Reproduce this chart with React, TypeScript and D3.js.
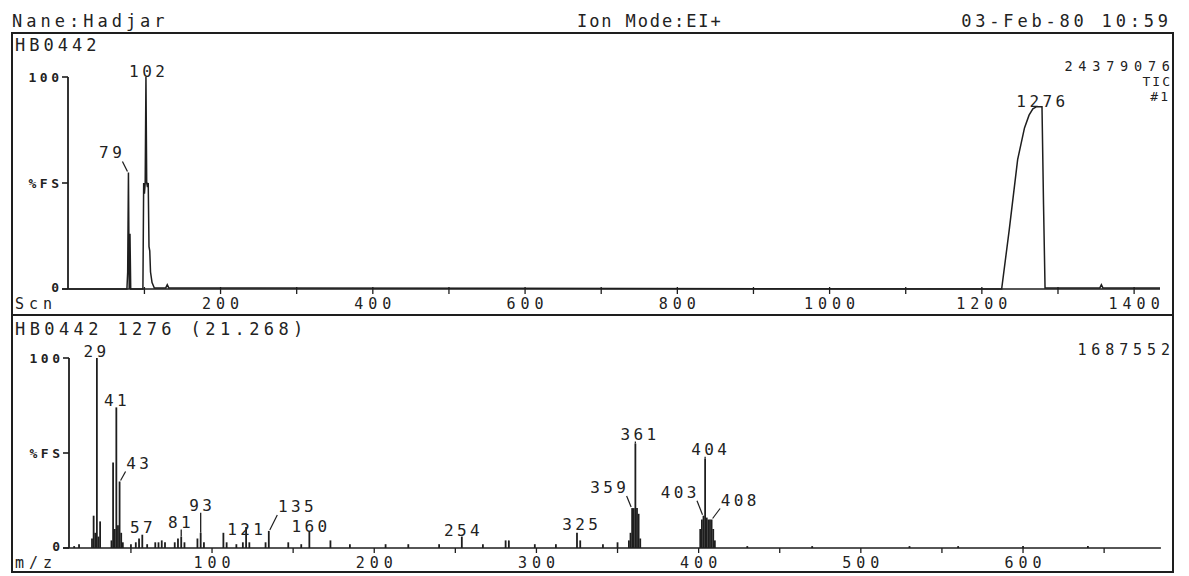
import React from 'react';
import * as d3 from 'd3';

// TIC trace: scan number and %FS
const ticScans = [0, 77, 78, 79, 80, 81, 82, 98, 99, 100, 101, 102, 103, 104, 105, 106, 107, 108, 110, 113, 128, 130, 132, 1226, 1236, 1247, 1256, 1262, 1267, 1272, 1276, 1279, 1281, 1283, 1355, 1357, 1359, 1434];
const ticPct = [0, 0, 8, 55, 0, 26, 0, 0, 50, 45, 50, 100, 50, 48, 50, 20, 18, 8, 3, 0.5, 0.5, 2, 0.5, 0, 28, 61, 76, 82, 85, 86, 86, 86, 40, 0.5, 0.5, 2, 0.5, 0.5];

// mass spectrum of scan 1276
const specMz = [15, 18, 26, 27, 28, 29, 30, 31, 38, 39, 40, 41, 42, 43, 44, 45, 50, 53, 55, 57, 60, 65, 67, 69, 71, 77, 79, 81, 83, 91, 93, 95, 107, 109, 115, 119, 121, 123, 133, 135, 147, 155, 160, 173, 185, 207, 221, 240, 254, 267, 281, 283, 299, 312, 325, 327, 341, 350, 357, 358, 359, 360, 361, 362, 363, 364, 401, 402, 403, 404, 405, 406, 407, 408, 409, 410, 430, 470, 530, 560, 600, 640];
const specPct = [1, 2, 5, 17, 8, 100, 6, 14, 4, 45, 10, 74, 12, 35, 8, 3, 2, 3, 5, 7, 2, 3, 3, 4, 3, 3, 5, 6, 3, 5, 8, 3, 8, 3, 2, 3, 11, 3, 3, 9, 3, 2, 9, 4, 2, 2, 2, 2, 6, 2, 4, 4, 2, 2, 8, 4, 2, 3, 4, 8, 21, 21, 55, 21, 18, 5, 10, 15, 17, 47, 16, 15, 15, 15, 10, 4, 1, 1, 1, 1, 1, 1];

const ticTicks = [200, 400, 600, 800, 1000, 1200, 1400];
const ticMinor = d3.range(100, 1434, 100);
const mzTicks = [100, 200, 300, 400, 500, 600];
const mzMinor = d3.range(50, 685, 50);

// peak annotations (value to label, label offset from peak top in px)
const ticLabels = [
  { v: 79, dx: -18, dy: -14 },
  { v: 102, dx: 1, dy: 0 },
  { v: 1276, dx: 1, dy: 0 },
];
const mzLabels = [
  { v: 29, dx: -2, dy: -1 },
  { v: 41, dx: -1, dy: -1 },
  { v: 43, dx: 18, dy: -13 },
  { v: 57, dx: -1, dy: -2 },
  { v: 81, dx: -2, dy: -9 },
  { v: 93, dx: 0, dy: -22 },
  { v: 121, dx: -1, dy: 8 },
  { v: 135, dx: 27, dy: -19 },
  { v: 160, dx: 0, dy: 1 },
  { v: 254, dx: 0, dy: -1 },
  { v: 325, dx: 3, dy: -3 },
  { v: 359, dx: -24, dy: -15 },
  { v: 361, dx: 3, dy: -4 },
  { v: 403, dx: -25, dy: -18 },
  { v: 404, dx: 4, dy: -4 },
  { v: 408, dx: 27, dy: -14 },
];

const FONT = "'DejaVu Sans Mono', 'Liberation Mono', monospace";
const INK = '#1e1e1e';
const TXT = '#222';

type TProps = { x: number; y: number; s: string; size?: number; ls?: number; anchor?: string; weight?: string | number };
const T = ({ x, y, s, size = 16, ls = 4, anchor = 'start', weight = 'normal' }: TProps) => (
  <text x={x + (anchor === 'middle' ? ls / 2 : anchor === 'end' ? ls : 0)} y={y} fontFamily={FONT} fontSize={size}
    letterSpacing={ls} textAnchor={anchor} fill={TXT} fontWeight={weight}>{s}</text>
);

const PeakLabel = ({ px, py, dx, dy }: { px: number; py: number; dx: number; dy: number }, s: string, key: string) => {
  const lx = px + dx;
  const ly = py + dy;
  const w = s.length * 13;
  let leader = null;
  if (Math.abs(dx) > 6) {
    const sign = dx > 0 ? 1 : -1;
    leader = <line x1={px + sign * 1} y1={py - 1} x2={lx - sign * (w / 2 - 1)} y2={ly + 3} stroke={INK} strokeWidth={1.2} />;
  } else if (py - ly > 3) {
    leader = <line x1={px} y1={py} x2={px} y2={ly + 2} stroke={INK} strokeWidth={1.3} />;
  }
  return (
    <g key={key}>
      {leader}
      <T x={lx} y={ly} s={s} size={16} ls={3.4} anchor="middle" />
    </g>
  );
};

export default function App() {
  const W = 1189, H = 576;
  const left = 12, right = 1173, top = 33, mid = 315, bottom = 572;

  const xTic = d3.scaleLinear().domain([0, 1434]).range([68.3, 1160]);
  const yTic = d3.scaleLinear().domain([0, 100]).range([289, 77]);
  const xMz = d3.scaleLinear().domain([12, 685]).range([69.3, 1160.9]);
  const yMz = d3.scaleLinear().domain([0, 100]).range([548, 358]);

  const ticLine = d3.line<number>().x((_, i) => xTic(ticScans[i])).y(d => yTic(d));

  const ticAt = (s: number) => {
    const i = ticScans.indexOf(s);
    return i >= 0 ? ticPct[i] : ticPct[d3.bisectLeft(ticScans, s)];
  };
  const mzAt = (m: number) => specPct[specMz.indexOf(m)];

  const yAxis = (x: number, yS: d3.ScaleLinear<number, number>) => (
    <g>
      <line x1={x} y1={yS(100)} x2={x} y2={yS(0)} stroke={INK} strokeWidth={1.8} />
      {[100, 50, 0].map(v => (
        <line key={v} x1={x - 6} y1={yS(v)} x2={x} y2={yS(v)} stroke={INK} strokeWidth={1.6} />
      ))}
      <T x={x - 9} y={yS(100) + 5} s="100" size={13} ls={3.5} anchor="end" weight="bold" />
      <T x={x - 9} y={yS(50) + 5} s="%FS" size={13} ls={3.5} anchor="end" weight="bold" />
      <T x={x - 9} y={yS(0) + 3} s="0" size={13} ls={3.5} anchor="end" weight="bold" />
    </g>
  );

  return (
    <svg width={W} height={H} style={{ position: 'fixed', left: 0, top: 0, background: '#fff' }}>
      <rect x={0} y={0} width={W} height={H} fill="#fff" />

      {/* header */}
      <T x={12} y={27} s="Nane:Hadjar" size={17} ls={4} />
      <T x={577} y={27} s="Ion Mode:EI+" size={17} ls={1.9} />
      <T x={1168} y={27} s="03-Feb-80 10:59" size={17} ls={3.8} anchor="end" />

      {/* frame */}
      <rect x={left} y={top} width={right - left} height={bottom - top} fill="none" stroke={INK} strokeWidth={2} />
      <line x1={left} y1={mid} x2={right} y2={mid} stroke={INK} strokeWidth={2} />

      {/* ---------- TIC panel ---------- */}
      <T x={15} y={51} s="HB0442" size={17} ls={4} />
      <T x={1170} y={71} s="24379076" size={13.5} ls={5.8} anchor="end" />
      <T x={1170} y={86} s="TIC" size={13} ls={2} anchor="end" />
      <T x={1168} y={101} s="#1" size={13} ls={2} anchor="end" />
      {yAxis(68, yTic)}
      <line x1={62} y1={yTic(0)} x2={xTic(1434)} y2={yTic(0)} stroke={INK} strokeWidth={1.6} />
      {ticMinor.map(v => (
        <line key={v} x1={xTic(v)} y1={yTic(0) - 2} x2={xTic(v)} y2={yTic(0) + 5} stroke={INK} strokeWidth={1.3} />
      ))}
      {ticTicks.map(v => (
        <T key={v} x={xTic(v)} y={309} s={String(v)} size={15} ls={5} anchor="middle" />
      ))}
      <T x={15} y={309} s="Scn" size={15} ls={5} />
      <path d={ticLine(ticPct) || ''} fill="none" stroke={INK} strokeWidth={1.5} />
      {ticLabels.map(l => PeakLabel({ px: xTic(l.v), py: yTic(ticAt(l.v)), dx: l.dx, dy: l.dy }, String(l.v), 't' + l.v))}

      {/* ---------- spectrum panel ---------- */}
      <T x={15} y={335} s="HB0442 1276 (21.268)" size={17} ls={4.4} />
      <T x={1170} y={355} s="1687552" size={15} ls={4.9} anchor="end" />
      {yAxis(69, yMz)}
      <line x1={63} y1={yMz(0)} x2={xMz(685)} y2={yMz(0)} stroke={INK} strokeWidth={1.6} />
      {mzMinor.map(v => (
        <line key={v} x1={xMz(v)} y1={yMz(0)} x2={xMz(v)} y2={yMz(0) + 5} stroke={INK} strokeWidth={1.3} />
      ))}
      {mzTicks.map(v => (
        <T key={v} x={xMz(v)} y={568} s={String(v)} size={15} ls={5} anchor="middle" />
      ))}
      <T x={15} y={568} s="m/z" size={15} ls={5} />
      {specMz.map((m, i) => (
        <line key={m} x1={xMz(m)} y1={yMz(0)} x2={xMz(m)} y2={yMz(specPct[i])} stroke={INK} strokeWidth={1.8} />
      ))}
      {mzLabels.map(l => PeakLabel({ px: xMz(l.v), py: yMz(mzAt(l.v)), dx: l.dx, dy: l.dy }, String(l.v), 'm' + l.v))}
    </svg>
  );
}
